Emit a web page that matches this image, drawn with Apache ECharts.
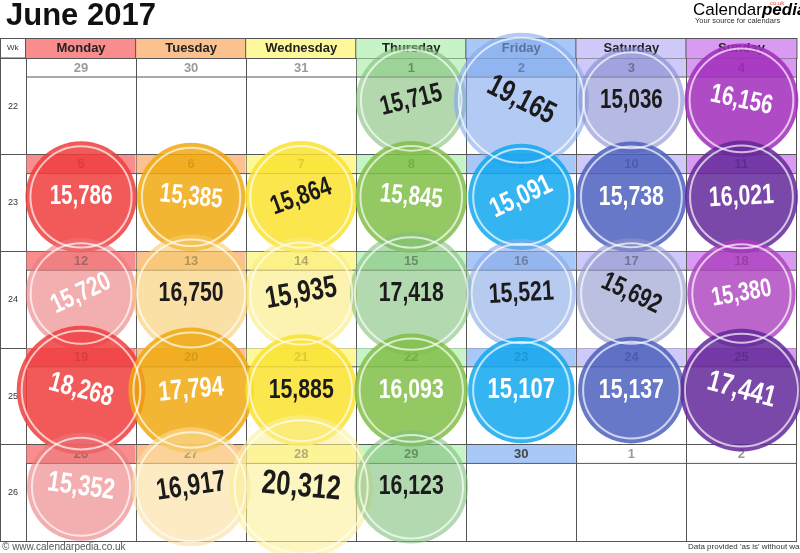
<!DOCTYPE html>
<html>
<head>
<meta charset="utf-8">
<title>June 2017</title>
<script src="https://cdn.jsdelivr.net/npm/echarts@6/dist/echarts.min.js"></script>
<style>
  html, body { margin: 0; padding: 0; background: #fff; }
  #chart { width: 800px; height: 553px; }
</style>
</head>
<body>
<div id="chart"></div>
<script>
const days = ['Monday', 'Tuesday', 'Wednesday', 'Thursday', 'Friday', 'Saturday', 'Sunday'];
const weeks = ['22', '23', '24', '25', '26'];

const dayNumbers = [
  [29, 30, 31, 1, 2, 3, 4],
  [5, 6, 7, 8, 9, 10, 11],
  [12, 13, 14, 15, 16, 17, 18],
  [19, 20, 21, 22, 23, 24, 25],
  [26, 27, 28, 29, 30, 1, 2]
];

const counts = [
  [null, null, null, 15715, 19165, 15036, 16156],
  [15786, 15385, 15864, 15845, 15091, 15738, 16021],
  [15720, 16750, 15935, 17418, 15521, 15692, 15380],
  [18268, 17794, 15885, 16093, 15107, 15137, 17441],
  [15352, 16917, 20312, 16123, null, null, null]
];

// header / date strip colours per weekday
const pastel = ['#f98d8d', '#fbc18f', '#fdf99a', '#c6f4c6', '#a8c8f8', '#cec9f8', '#d89bf1'];

// per-cell circle look: [fill, opacity, label rotation, font size, dark text]
const look = [
  [null, null, null,
   ['#80be78', 0.6, 14, 27, 1], ['#80a8ed', 0.6, -27, 31, 1], ['#848ad0', 0.6, 0, 27, 1], ['#a22cbc', 0.85, -12, 27, 0]],
  [['#f03d3d', 0.85, 0, 27, 0], ['#f0a910', 0.85, -6, 27, 0], ['#fae22f', 0.85, 20, 27, 1], ['#80be46', 0.85, -6, 27, 0],
   ['#12a7f0', 0.85, 25, 28, 0], ['#4d60be', 0.85, 0, 28, 0], ['#632899', 0.85, 3, 28, 0]],
  [['#eb787b', 0.6, 25, 27, 0], ['#f8cb6b', 0.6, 0, 28, 1], ['#fceb7b', 0.6, 10, 31, 1], ['#80bf7b', 0.6, 0, 28, 1],
   ['#87a8e6', 0.6, 3, 28, 1], ['#8f96cb', 0.6, -25, 27, 1], ['#ab3fbe', 0.8, 10, 26, 0]],
  [['#f03d3d', 0.85, -15, 28, 0], ['#f0a910', 0.85, 5, 28, 0], ['#fae22f', 0.85, 0, 28, 1], ['#80be46', 0.85, 0, 28, 0],
   ['#12a7f0', 0.85, 0, 29, 0], ['#4d60be', 0.85, 0, 28, 0], ['#632899', 0.85, -15, 30, 0]],
  [['#eb787b', 0.6, -8, 29, 0], ['#fcde9d', 0.6, 8, 30, 1], ['#fcf096', 0.6, -5, 34, 1], ['#80bf7b', 0.6, 0, 28, 1],
   null, null, null]
];

const inMonth = (w, d) =>
  !(w === 0 && dayNumbers[w][d] > 7) && !(w === weeks.length - 1 && dayNumbers[w][d] < 7);

const sans = "'Liberation Sans', Arial, sans-serif";
const lineColor = '#555';

const dateCells = [];
const circles = [];
weeks.forEach((wk, w) => {
  days.forEach((day, d) => {
    dateCells.push([d, w, dayNumbers[w][d], inMonth(w, d) ? 1 : 0]);
    const v = counts[w][d];
    if (v == null) return;
    circles.push([d, w, v]);
  });
});

const rich = {};
days.forEach((day, i) => {
  rich['d' + i] = {
    width: 110, height: 19, lineHeight: 19, align: 'center',
    backgroundColor: pastel[i], borderColor: lineColor, borderWidth: 1,
    fontFamily: sans, fontWeight: 'bold', fontSize: 13, color: '#222'
  };
});

const chart = echarts.init(document.getElementById('chart'));

const option = {
  animation: false,
  grid: { left: 26, top: 58, width: 777, height: 483 },
  xAxis: [
    {
      type: 'category',
      data: days,
      position: 'top',
      axisLine: { show: true, lineStyle: { color: lineColor, width: 1 } },
      axisTick: { show: false },
      axisLabel: {
        interval: 0,
        margin: 0,
        formatter: (val, idx) => '{d' + idx + '|' + val + '}',
        rich: rich
      },
      splitLine: { show: true, lineStyle: { color: lineColor, width: 1 } }
    },
    {
      type: 'category',
      data: days,
      position: 'bottom',
      axisLine: { show: true, lineStyle: { color: lineColor, width: 1 } },
      axisTick: { show: false },
      axisLabel: { show: false },
      splitLine: { show: false }
    }
  ],
  yAxis: {
    type: 'category',
    data: weeks,
    inverse: true,
    axisLine: { show: true, lineStyle: { color: lineColor, width: 1 } },
    axisTick: { show: true, length: 26, lineStyle: { color: lineColor, width: 1 } },
    axisLabel: { margin: 13, align: 'center', fontSize: 9, color: '#333', fontFamily: sans },
    splitLine: { show: true, lineStyle: { color: lineColor, width: 1 } }
  },
  series: [
    {
      name: 'dates',
      type: 'custom',
      z: 1,
      silent: true,
      data: dateCells,
      renderItem: (params, api) => {
        const c = api.coord([api.value(0), api.value(1)]);
        const s = api.size([1, 1]);
        const x0 = c[0] - s[0] / 2;
        const y0 = c[1] - s[1] / 2;
        const own = api.value(3) === 1;
        const d = api.value(0);
        const kids = [];
        if (own) {
          kids.push({
            type: 'rect',
            shape: { x: x0 + 0.5, y: y0 + 0.5, width: s[0] - 1, height: 18 },
            style: { fill: pastel[d] }
          });
        }
        kids.push({
          type: 'line',
          shape: { x1: x0, y1: y0 + 19, x2: x0 + s[0], y2: y0 + 19 },
          style: { stroke: lineColor, lineWidth: 1 }
        });
        kids.push({
          type: 'text',
          style: {
            text: String(api.value(2)), x: c[0], y: y0 + 10,
            textAlign: 'center', textVerticalAlign: 'middle',
            fontSize: 13, fontWeight: 'bold', fontFamily: sans,
            fill: own ? '#444' : '#9a9a9a'
          }
        });
        return { type: 'group', children: kids };
      }
    },
    {
      name: 'circles',
      type: 'scatter',
      z: 3,
      silent: true,
      clip: false,
      symbol: 'circle',
      symbolOffset: [0, -6],
      symbolSize: (val) => val[2] / 142,
      itemStyle: {
        color: (p) => look[p.value[1]][p.value[0]][0],
        opacity: 1
      },
      data: circles.map((c) => ({
        value: c,
        itemStyle: { opacity: look[c[1]][c[0]][1] }
      }))
    },
    {
      name: 'rings',
      type: 'scatter',
      z: 4,
      silent: true,
      clip: false,
      symbol: 'circle',
      symbolOffset: [0, -6],
      symbolSize: (val) => val[2] / 142 - 10,
      itemStyle: { color: 'rgba(0,0,0,0)', borderColor: 'rgba(255,255,255,0.85)', borderWidth: 2 },
      data: circles
    },
    {
      name: 'values',
      type: 'custom',
      z: 5,
      silent: true,
      data: circles,
      renderItem: (params, api) => {
        const d = api.value(0);
        const w = api.value(1);
        const c = api.coord([d, w]);
        const lk = look[w][d];
        return {
          type: 'text',
          x: c[0],
          y: c[1] - 6,
          rotation: lk[2] * Math.PI / 180,
          scaleX: 0.76,
          style: {
            text: echarts.format.addCommas(api.value(2)),
            textAlign: 'center', textVerticalAlign: 'middle',
            fontSize: lk[3], fontWeight: 'bold', fontFamily: sans,
            fill: lk[4] ? '#1b1b1b' : '#ffffff'
          }
        };
      }
    }
  ],
  graphic: [
    {
      type: 'text', left: 6, top: 1,
      style: { text: 'June 2017', fontSize: 31, fontWeight: 'bold', fontFamily: sans, fill: '#111' }
    },
    {
      type: 'text', left: 693, top: 2,
      style: {
        text: '{a|Calendar}{b|pedia}',
        rich: {
          a: { fontSize: 17, fontFamily: sans, color: '#222' },
          b: { fontSize: 17, fontStyle: 'italic', fontWeight: 'bold', fontFamily: sans, color: '#e5482c' }
        }
      }
    },
    {
      type: 'text', left: 770, top: 0,
      style: { text: 'co.uk', fontSize: 6, fill: '#e5482c', fontFamily: sans }
    },
    {
      type: 'text', left: 695, top: 17,
      style: { text: 'Your source for calendars', fontSize: 7.5, fill: '#333', fontFamily: sans }
    },
    {
      type: 'rect', z: 0,
      shape: { x: 0.5, y: 38.5, width: 25.5, height: 19.5 },
      style: { fill: '#fff', stroke: lineColor, lineWidth: 1 }
    },
    {
      type: 'line', z: 0,
      shape: { x1: 0.5, y1: 38, x2: 0.5, y2: 541 },
      style: { stroke: lineColor, lineWidth: 1 }
    },
    {
      type: 'text', left: 7, top: 44,
      style: { text: 'Wk', fontSize: 8, fill: '#333', fontFamily: sans }
    },
    {
      type: 'text', left: 2, top: 542,
      style: { text: '\u00a9 www.calendarpedia.co.uk', fontSize: 10, fill: '#555', fontFamily: sans }
    },
    {
      type: 'text', left: 688, top: 543,
      style: { text: "Data provided 'as is' without warranty", fontSize: 8, fill: '#333', fontFamily: sans }
    }
  ]
};

chart.setOption(option);
</script>
</body>
</html>
